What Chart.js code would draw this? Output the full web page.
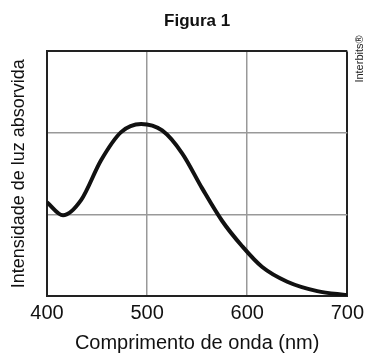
<!DOCTYPE html>
<html lang="pt">

<head>
    <meta charset="UTF-8">
    <script src="https://cdn.jsdelivr.net/npm/chart.js"></script>
    <title>Figura 1</title>
    <style>
        html, body { margin: 0; padding: 0; background: #fff; }
        #wrap { width: 369px; height: 354px; }
    </style>
</head>

<body>
    <div id="wrap">
        <canvas id="absChart" width="369" height="354"></canvas>
    </div>

    <script>
        // values
        const wavelengths = [400, 416, 434, 454, 474, 494, 515, 535, 555, 575, 595, 615, 640, 670, 700];
        const absorbance = [1.15, 0.99, 1.175, 1.665, 2.01, 2.11, 2.03, 1.75, 1.32, 0.92, 0.61, 0.355, 0.175, 0.06, 0.01];
        const xTicks = [400, 500, 600, 700];

        const FONT = "'Liberation Sans', Arial, sans-serif";

        // small rotated credit on the right
        const creditText = {
            id: 'creditText',
            afterDraw(chart) {
                const c = chart.ctx;
                c.save();
                c.translate(360, 59);
                c.rotate(-Math.PI / 2);
                c.font = '11px ' + FONT;
                c.fillStyle = '#222';
                c.textAlign = 'center';
                c.textBaseline = 'middle';
                c.fillText('Interbits®', 0, 0);
                c.restore();
            }
        };

        const edgeColor = (min, max) => (ctx) => {
            const v = ctx.tick ? ctx.tick.value : null;
            return (v === min || v === max) ? '#222' : '#999';
        };
        const edgeWidth = (min, max) => (ctx) => {
            const v = ctx.tick ? ctx.tick.value : null;
            return (v === min || v === max) ? 2 : 1.5;
        };

        new Chart(document.getElementById('absChart'), {
            type: 'line',
            data: {
                datasets: [{
                    data: wavelengths.map((w, i) => ({ x: w, y: absorbance[i] })),
                    borderColor: '#111',
                    borderWidth: 4,
                    pointRadius: 0,
                    cubicInterpolationMode: 'monotone',
                    fill: false
                }]
            },
            options: {
                responsive: false,
                animation: false,
                layout: { padding: { left: 0, right: 18, top: 0, bottom: 0 } },
                plugins: {
                    legend: { display: false },
                    tooltip: { enabled: false },
                    title: {
                        display: true,
                        fullSize: false,
                        text: 'Figura 1',
                        color: '#111',
                        font: { family: FONT, size: 17, weight: 'bold' },
                        padding: { top: 11, bottom: 20 }
                    }
                },
                scales: {
                    x: {
                        type: 'linear',
                        min: 400,
                        max: 700,
                        afterBuildTicks: (s) => { s.ticks = xTicks.map(v => ({ value: v })); },
                        afterFit: (s) => { s.height = 58; },
                        grid: { color: edgeColor(400, 700), lineWidth: edgeWidth(400, 700), drawTicks: false },
                        border: { display: true, color: '#222', width: 2 },
                        ticks: { color: '#111', font: { family: FONT, size: 20 }, padding: 5 },
                        title: {
                            display: true,
                            text: 'Comprimento de onda (nm)',
                            color: '#111',
                            font: { family: FONT, size: 20 },
                            padding: { top: 0, bottom: -1 }
                        }
                    },
                    y: {
                        min: 0,
                        max: 3,
                        afterFit: (s) => { s.width = 47; },
                        grid: { color: edgeColor(0, 3), lineWidth: edgeWidth(0, 3), drawTicks: false },
                        border: { display: true, color: '#222', width: 2 },
                        ticks: { display: false, stepSize: 1 },
                        title: {
                            display: true,
                            text: 'Intensidade de luz absorvida',
                            color: '#111',
                            font: { family: FONT, size: 18 },
                            padding: { top: 8, bottom: 0 }
                        }
                    }
                }
            },
            plugins: [creditText]
        });
    </script>
</body>

</html>
